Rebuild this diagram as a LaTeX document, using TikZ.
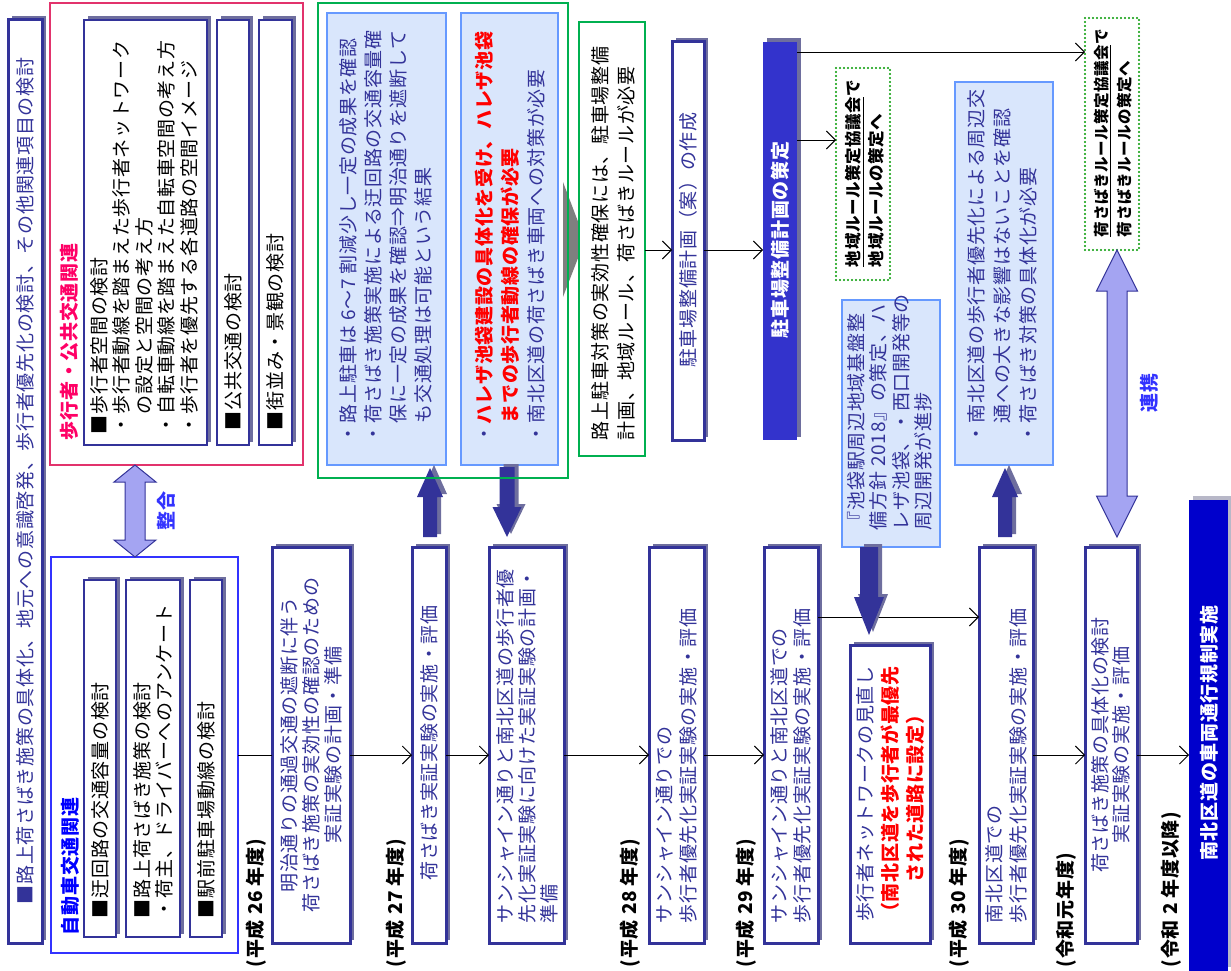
\documentclass[tikz,border=0pt]{standalone}
\usepackage{fontspec}
\setmainfont{Noto Sans CJK JP}[LetterSpace=3.7]
\usetikzlibrary{shadows,fit,arrows.meta,calc}
\definecolor{dblue}{HTML}{333399}
\definecolor{shadowc}{HTML}{6E6E9E}
\definecolor{lshadow}{HTML}{B8B8C8}
\definecolor{pinkc}{HTML}{E2336C}
\definecolor{titlepink}{HTML}{FF0066}
\definecolor{grpblue}{HTML}{3333FF}
\definecolor{titleblue}{HTML}{0000FF}
\definecolor{lblue}{HTML}{3333FF}
\definecolor{greenc}{HTML}{00B050}
\definecolor{dotgreen}{HTML}{009900}
\definecolor{lfill}{HTML}{D9E6FC}
\definecolor{lborder}{HTML}{6699FF}
\definecolor{iblue}{HTML}{0000CC}
\definecolor{pfblue}{HTML}{3333CC}
\definecolor{dblfill}{HTML}{A4A4F2}
\definecolor{greytri}{HTML}{7F7F7F}
\definecolor{jred}{HTML}{FF0000}
\newcommand\jfs[1]{\fontsize{19}{#1}\selectfont}
\newcommand\jfss[2]{\fontsize{#1}{#2}\selectfont}
\newcommand\fatv[6]{%
  \fill[shadowc,xshift=4pt,yshift=3pt] (#1,#2) -- (#1+#5,#6) -- (#1+#4,#6) -- (#1+#4,#3) -- (#1-#4,#3) -- (#1-#4,#6) -- (#1-#5,#6) -- cycle;
  \fill[dblue] (#1,#2) -- (#1+#5,#6) -- (#1+#4,#6) -- (#1+#4,#3) -- (#1-#4,#3) -- (#1-#4,#6) -- (#1-#5,#6) -- cycle;}
\newcommand\dblv[6]{%
  \filldraw[fill=dblfill,draw=dblue,line width=1pt,line join=miter]
   (#1,#2) -- (#1+#5,#2+#6) -- (#1+#4,#2+#6) -- (#1+#4,#3-#6) -- (#1+#5,#3-#6) -- (#1,#3)
   -- (#1-#5,#3-#6) -- (#1-#4,#3-#6) -- (#1-#4,#2+#6) -- (#1-#5,#2+#6) -- cycle;}
\tikzset{
 bx/.style={draw=dblue, line width=2pt, fill=white, inner sep=0pt, outer sep=0pt,
   drop shadow={shadow xshift=4pt, shadow yshift=3.5pt, fill=shadowc, opacity=1}},
 tbx/.style={bx, line width=3pt},
 lbx/.style={draw=lborder, line width=1.5pt, fill=lfill, inner sep=0pt, outer sep=0pt},
 grp/.style={draw=#1, line width=1.5pt, inner sep=0pt, outer sep=0pt},
 dotbx/.style={draw=dotgreen, line width=2.2pt, dash pattern=on 0pt off 4pt, line cap=round, inner sep=0pt, outer sep=0pt, fill=white},
 jt/.style={rotate=90, inner sep=0pt, outer sep=0pt, align=left, text=dblue, font=\jfs{23}},
 jc/.style={jt, align=center, anchor=center},
 jl/.style={jt, anchor=west},
 yr/.style={jl, text=black, font=\fontsize{19}{20}\selectfont\bfseries},
 ln/.style={draw=black, line width=0.9pt},
 arr/.style={ln, -{Straight Barb[length=9pt,width=18pt]}},
}
\begin{document}
\begin{tikzpicture}[x=1pt,y=-1pt]
\useasboundingbox (0,0) rectangle (1231,971);
\coordinate (L755) at (0,755);
\coordinate (L617) at (0,617);
\coordinate (L250) at (0,250);
\coordinate (L140) at (0,140);
\coordinate (L52) at (0,52);

% top bar
\node[tbx, fit={(8,20)(42,943)}] (top) {};
\node[jc] (topt) at (25,481) {■路上荷さばき施策の具体化、地元への意識啓発、歩行者優先化の検討、その他関連項目の検討};

% pedestrian group
\node[grp=pinkc, fit={(50,3)(303,465)}] (pink) {};
\node[jl, text=titlepink, font=\jfs{23}\bfseries] (pinkt) at (69,440) {歩行者・公共交通関連};
\node[bx, fit={(84,20)(207,445)}] (ped) {};
\node[jl, text=black, font=\jfs{22.5}] (pedt) at (144,434) {■歩行者空間の検討\\・歩行者動線を踏まえた歩行者ネットワーク\\　の設定と空間の考え方\\・自転車動線を踏まえた自転車空間の考え方\\・歩行者を優先する各道路の空間イメージ};
\node[bx, fit={(217,20)(249,445)}] (pub) {};
\node[jl, text=black] (pubt) at (233,430) {■公共交通の検討};
\node[bx, fit={(259,20)(292,445)}] (town) {};
\node[jl, text=black] (townt) at (275.5,430) {■街並み・景観の検討};

% car group
\node[grp=grpblue, fit={(51,557)(238,953)}] (blue) {};
\node[jl, text=titleblue, font=\jfs{23}\bfseries] (bluet) at (70,935) {自動車交通関連};
\node[bx, fit={(84,580)(116,937)}] (car1) {};
\node[jl, text=black] (car1t) at (100,918) {■迂回路の交通容量の検討};
\node[bx, fit={(126,580)(180,937)}] (car2) {};
\node[jl, text=black, font=\jfs{22}] (car2t) at (153,918) {■路上荷さばき施策の検討\\・荷主、ドライバーへのアンケート};
\node[bx, fit={(190,580)(222,937)}] (car3) {};
\node[jl, text=black] (car3t) at (206,918) {■駅前駐車場動線の検討};

\dblv{135}{465}{557}{10}{21}{17}
\node[jc, text=lblue, font=\jfs{23}\bfseries] (seigo) at (166,511) {整合};

% timeline
\node[tbx, fit={(272,547)(350,943)}] (A) {};
\node[jc, font=\jfs{22}] (At) at (311,745) {明治通りの通過交通の遮断に伴う\\荷さばき施策の実効性の確認のための\\実証実験の計画・準備};
\node[tbx, fit={(412,547)(446,943)}] (B) {};
\node[jc] (Bt) at (429,743) {荷さばき実証実験の実施・評価};
\node[tbx, fit={(489,547)(564,943)}] (C) {};
\node[jl, font=\jfs{22}] (Ct) at (527,923) {サンシャイン通りと南北区道の歩行者優\\先化実証実験に向けた実証実験の計画・\\準備};
\node[tbx, fit={(649,547)(704,943)}] (D) {};
\node[jl, font=\jfs{24}] (Dt) at (677,923) {サンシャイン通りでの\\歩行者優先化実証実験の実施・評価};
\node[tbx, fit={(764,547)(818,943)}] (E) {};
\node[jl, font=\jfs{23}] (Et) at (791,923) {サンシャイン通りと南北区道での\\歩行者優先化実証実験の実施・評価};
\node[tbx, fit={(850,645)(930,943)}] (F) {};
\node[jc, font=\jfs{25}] (Ft) at (890,794) {歩行者ネットワークの見直し\\{\color{jred}\bfseries （南北区道を歩行者が最優先}\\{\color{jred}\bfseries された道路に設定）}};
\node[tbx, fit={(979,547)(1033,943)}] (G) {};
\node[jl, font=\jfs{24}] (Gt) at (1006,923) {南北区道での\\歩行者優先化実証実験の実施・評価};
\node[tbx, fit={(1085,547)(1137,943)}] (H) {};
\node[jc, font=\jfs{21}] (Ht) at (1111,745) {荷さばき施策の具体化の検討\\実証実験の実施・評価};
\node[fill=iblue, inner sep=0pt, outer sep=0pt, drop shadow={shadow xshift=4pt, shadow yshift=4pt, fill=lshadow, opacity=1}, fit={(1189,500)(1228,971)}] (I) {};
\node[jc, text=white, font=\jfs{23}\bfseries] (It) at (1209,733) {南北区道の車両通行規制実施};

% years
\node[yr] (y26) at (256,967) {(平成 26 年度)};
\node[yr] (y27) at (396,967) {(平成 27 年度)};
\node[yr] (y28) at (630,967) {(平成 28 年度)};
\node[yr] (y29) at (746,967) {(平成 29 年度)};
\node[yr] (y30) at (959,967) {(平成 30 年度)};
\node[yr] (yr1) at (1066,967) {(令和元年度)};
\node[yr] (yr2) at (1171,967) {(令和 2 年度以降)};

% results (green group)
\fill[greytri] (563,182) -- (585,240) -- (563,297) -- cycle;
\node[lbx, fit={(327,13)(446,465)}] (res1) {};
\node[jl, font=\jfs{25}] (res1t) at (386,443) {・路上駐車は 6〜7 割減少し一定の成果を確認\\・荷さばき施策実施による迂回路の交通容量確\\　保に一定の成果を確認⇒明治通りを遮断して\\　も交通処理は可能という結果};
\node[lbx, fit={(461,13)(558,465)}] (res2) {};
\node[jl, font=\jfs{26}] (res2t) at (510,443) {・{\color{jred}\bfseries ハレザ池袋建設の具体化を受け、ハレザ池袋}\\{\color{jred}\bfseries 　までの歩行者動線の確保が必要}\\・南北区道の荷さばき車両への対策が必要};
\node[grp=greenc, fill=white, fit={(579,22)(645,456)}] (need) {};
\node[jl, text=black, font=\jfs{26}] (needt) at (613,440) {路上駐車対策の実効性確保には、駐車場整備\\計画、地域ルール、荷さばきルールが必要};
\node[tbx, fit={(672,42)(704,440)}] (plan) {};
\node[jc] (plant) at (688,240) {駐車場整備計画（案）の作成};
\node[fill=pfblue, inner sep=0pt, outer sep=0pt, drop shadow={shadow xshift=4pt, shadow yshift=3.5pt, fill=shadowc, opacity=1}, fit={(763,42)(797,440)}] (pfix) {};
\node[jc, text=white, font=\jfs{23}\bfseries] (pfixt) at (780,240) {駐車場整備計画の策定};
\node[dotbx, fit={(836,68)(890,280)}] (local) {};
\node[jl, text=black, font=\jfss{16.5}{23}\bfseries] (localt) at (865,267) {\underline{地域ルール策定協議会}で\\地域ルールの策定へ};
\node[lbx, fit={(842,300)(940,547)}] (ikeb) {};
\node[jl, font=\jfs{22.5}] (ikebt) at (890,530) {『池袋駅周辺地域基盤整\\備方針 2018』の策定、ハ\\レザ池袋、・西口開発等の\\周辺開発が進捗};
\node[lbx, fit={(955,82)(1053,465)}] (res3) {};
\node[jl, font=\jfs{26}] (res3t) at (1002,443) {・南北区道の歩行者優先化による周辺交\\　通への大きな影響はないことを確認\\・荷さばき対策の具体化が必要};
\node[dotbx, fit={(1085,18)(1139,250)}] (lrule) {};
\node[jl, text=black, font=\jfss{15.5}{23}\bfseries] (lrulet) at (1113,237) {\underline{荷さばきルール策定協議会}で\\荷さばきルールの策定へ};

% thin connectors
\draw[ln] (blue.east |- L755) -- (A.west |- L755);
\draw[arr] (A.east |- L755) -- (B.west |- L755);
\draw[arr] (B.east |- L755) -- (C.west |- L755);
\draw[arr] (C.east |- L755) -- (D.west |- L755);
\draw[arr] (D.east |- L755) -- (E.west |- L755);
\draw[arr] (E.east |- L617) -- (G.west |- L617);
\draw[arr] (G.east |- L755) -- (H.west |- L755);
\draw[arr] (H.east |- L755) -- (I.west |- L755);
\draw[arr] (need.east |- L250) -- (plan.west |- L250);
\draw[arr] (plan.east |- L250) -- (pfix.west |- L250);
\draw[arr] (pfix.east |- L140) -- (local.west |- L140);
\draw[arr] (pfix.east |- L52) -- (lrule.west |- L52);

% fat arrows
\fatv{430}{468}{537}{7}{13}{497}
\fatv{507}{537}{467}{7.5}{14.5}{507}
\fatv{869}{635}{547}{9}{15}{597}
\fatv{1005}{468}{537}{7}{13}{497}
\dblv{1117}{250}{537}{10}{20.5}{41}
\node[jc, text=lblue, font=\jfs{23}\bfseries] (renkei) at (1149,393) {連携};

% green frame on top
\node[grp=greenc, fit={(318,3)(568,478)}] (green) {};
\end{tikzpicture}
\end{document}
